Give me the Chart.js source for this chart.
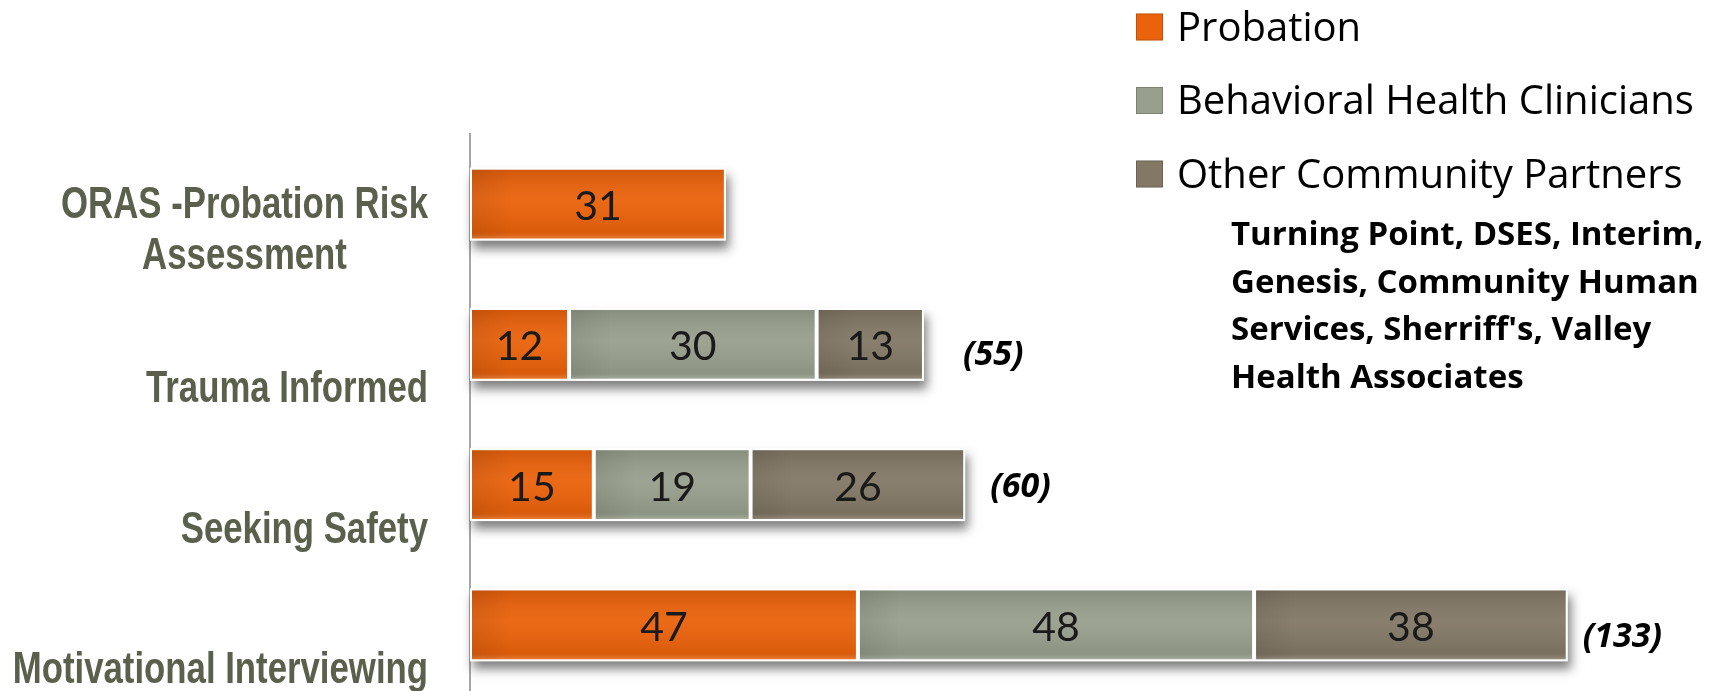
<!doctype html>
<html lang="en">
<head>
<meta charset="utf-8">
<title>Training by Agency</title>
<script src="https://cdn.jsdelivr.net/npm/chart.js@4.4.1/dist/chart.umd.min.js"></script>
<style>
  html, body { margin: 0; padding: 0; background: #fff; overflow: hidden; }
  #chart { display: block; }
</style>
</head>
<body>
<canvas id="chart" width="1723" height="695"></canvas>
<script>
// data
const Trainings = [['ORAS -Probation Risk', 'Assessment'], 'Trauma Informed', 'Seeking Safety', 'Motivational Interviewing']
const Probation = [31, 12, 15, 47]
const Clinicians = [null, 30, 19, 48]
const Partners = [null, 13, 26, 38]
const Totals = [null, 55, 60, 133]
const SeriesNames = ['Probation', 'Behavioral Health Clinicians', 'Other Community Partners']
const PartnerNote = ['Turning Point, DSES, Interim,', 'Genesis, Community Human', "Services, Sherriff's, Valley", 'Health Associates']

// look
const Colors = ['#ea620b', '#989f8d', '#837866']
const LabelDrop = [65, 58, 58, 58]   // baseline of the last label line, below bar centre
const TotalGap = [0, 39, 25, 15]
const TotalDrop = [0, 21, 12, 22]

const Decor = {
    id: 'decor',
    beforeDatasetsDraw(chart) {
        // soft shadow under each whole stacked bar
        const ctx = chart.ctx
        const x0 = chart.scales.x.getPixelForValue(0)
        ctx.save()
        ctx.shadowColor = 'rgba(0,0,0,0.5)'
        ctx.shadowBlur = 10
        ctx.shadowOffsetX = 3
        ctx.shadowOffsetY = 8
        ctx.fillStyle = '#fff'
        chart.data.labels.forEach((_, i) => {
            let right = x0, bar = null
            chart.data.datasets.forEach((ds, d) => {
                if (ds.data[i] == null) return
                const el = chart.getDatasetMeta(d).data[i]
                right = Math.max(right, el.x)
                bar = el
            })
            if (bar) ctx.fillRect(x0, bar.y - bar.height / 2, right - x0, bar.height)
        })
        ctx.restore()
    },
    afterDatasetsDraw(chart) {
        const ctx = chart.ctx
        ctx.save()
        chart.data.datasets.forEach((ds, d) => {
            chart.getDatasetMeta(d).data.forEach((el, i) => {
                if (ds.data[i] == null) return
                const left = Math.min(el.x, el.base) + 2, w = Math.abs(el.x - el.base) - 4
                const top = el.y - el.height / 2 + 2, h = el.height - 4
                // glossy shading
                const g = ctx.createLinearGradient(0, top, 0, top + h)
                g.addColorStop(0, 'rgba(0,0,0,0.10)')
                g.addColorStop(0.45, 'rgba(255,255,255,0.05)')
                g.addColorStop(0.9, 'rgba(0,0,0,0.07)')
                g.addColorStop(1, 'rgba(255,255,255,0.18)')
                ctx.fillStyle = g
                ctx.fillRect(left, top, w, h)
                const s = ctx.createLinearGradient(left, 0, left + 40, 0)
                s.addColorStop(0, 'rgba(0,0,0,0.08)')
                s.addColorStop(1, 'rgba(0,0,0,0)')
                ctx.fillStyle = s
                ctx.fillRect(left, top, Math.min(40, w), h)
                // value
                ctx.fillStyle = '#1a1a1a'
                ctx.font = '41px Lato'
                ctx.textAlign = 'center'
                ctx.textBaseline = 'alphabetic'
                ctx.fillText(ds.data[i], (el.x + el.base) / 2, el.y + 16)
            })
        })
        // totals
        ctx.font = 'italic bold 34px "Open Sans"'
        ctx.textAlign = 'left'
        ctx.fillStyle = '#000'
        Totals.forEach((t, i) => {
            if (t == null) return
            let end = 0, y = 0
            chart.data.datasets.forEach((ds, d) => {
                if (ds.data[i] == null) return
                const el = chart.getDatasetMeta(d).data[i]
                end = Math.max(end, el.x)
                y = el.y
            })
            ctx.fillText('(' + t + ')', end + TotalGap[i], y + TotalDrop[i])
        })
        ctx.restore()
    },
    afterDraw(chart) {
        const ctx = chart.ctx
        const yScale = chart.scales.y
        const squeeze = 0.79
        ctx.save()
        // category labels, bold and condensed
        ctx.font = 'bold 44px "Liberation Sans"'
        ctx.fillStyle = '#5b604d'
        ctx.textAlign = 'center'
        ctx.textBaseline = 'alphabetic'
        chart.data.labels.forEach((label, i) => {
            const lines = Array.isArray(label) ? label : [label]
            const blockW = Math.max(...lines.map(l => ctx.measureText(l).width)) * squeeze
            const cx = yScale.right - 42 - blockW / 2
            const last = yScale.getPixelForValue(i) + LabelDrop[i]
            lines.forEach((line, k) => {
                ctx.save()
                ctx.translate(cx, last - (lines.length - 1 - k) * 51)
                ctx.scale(squeeze, 1)
                ctx.fillText(line, 0, 0)
                ctx.restore()
            })
        })
        // legend
        ctx.textAlign = 'left'
        chart.data.datasets.forEach((ds, d) => {
            const cy = 27 + d * 73.5
            ctx.fillStyle = ds.backgroundColor
            ctx.fillRect(1136, cy - 13.5, 27, 27)
            ctx.strokeStyle = 'rgba(0,0,0,0.18)'
            ctx.lineWidth = 1
            ctx.strokeRect(1136.5, cy - 13, 26, 26)
            ctx.fillStyle = '#000'
            ctx.font = '40px "Open Sans"'
            ctx.fillText(ds.label, 1177, cy + 13.5)
        })
        ctx.font = 'bold 33px "Open Sans"'
        PartnerNote.forEach((line, k) => {
            ctx.fillText(line, 1231, 245 + k * 47.7)
        })
        ctx.restore()
    }
}

new Chart(document.getElementById('chart'), {
    type: 'bar',
    data: {
        labels: Trainings,
        datasets: [
            {
                label: SeriesNames[0],
                data: Probation,
                backgroundColor: Colors[0]
            },
            {
                label: SeriesNames[1],
                data: Clinicians,
                backgroundColor: Colors[1]
            },
            {
                label: SeriesNames[2],
                data: Partners,
                backgroundColor: Colors[2]
            }
        ]
    },
    options: {
        indexAxis: 'y',
        responsive: false,
        animation: false,
        datasets: {
            bar: {
                borderColor: '#fff',
                borderWidth: 2,
                borderSkipped: false,
                barPercentage: 0.52,
                categoryPercentage: 1
            }
        },
        layout: { padding: { top: 134, right: 15, left: 0, bottom: 0 } },
        plugins: {
            legend: { display: false },
            tooltip: { enabled: false }
        },
        scales: {
            x: { stacked: true, min: 0, max: 150, display: false },
            y: {
                stacked: true,
                grid: { display: false },
                ticks: { display: false },
                border: { color: '#a6a6a6', width: 2 },
                afterFit(scale) { scale.width = 470 }
            }
        }
    },
    plugins: [Decor]
});
</script>
</body>
</html>
